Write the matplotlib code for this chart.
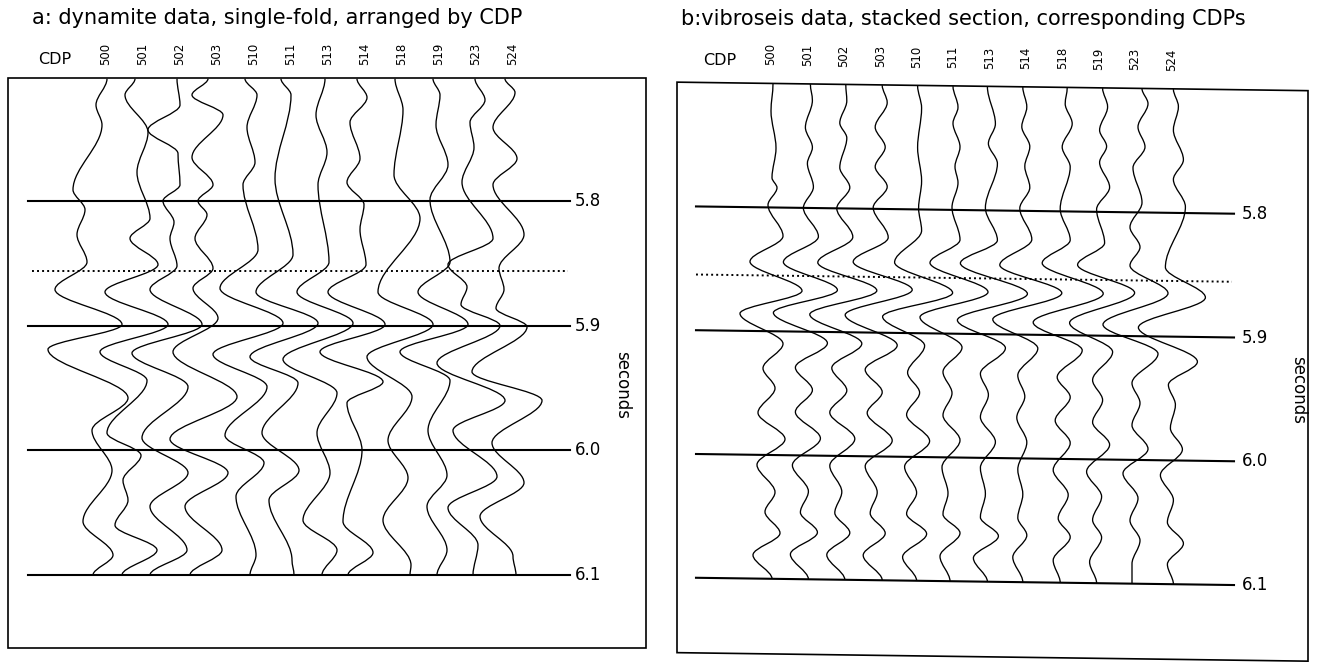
import numpy as np
import matplotlib.pyplot as plt
from matplotlib.path import Path
from matplotlib.patches import PathPatch, Rectangle
from matplotlib.transforms import Affine2D, blended_transform_factory

# CDP numbers on top of both sections
cdp_labels = ["500", "501", "502", "503", "510", "511", "513", "514", "518", "519", "523", "524"]

# timing lines (seconds) and the dotted pick
time_lines = [5.8, 5.9, 6.0, 6.1]
time_labels = ["5.8", "5.9", "6.0", "6.1"]
pick_a = 5.856
pick_b = 5.855

# a: dynamite traces, turning points: (time s, amplitude)
dyn_500 = [(5.702, 1), (5.723, -10), (5.739, -4), (5.791, -33), (5.807, -21), (5.827, -29), (5.849, -19),
           (5.871, -51), (5.899, 16), (5.919, -58), (5.958, 22), (5.984, -14), (6.016, 6), (6.057, -23),
           (6.084, 7), (6.100, -13)]
dyn_501 = [(5.702, -8), (5.715, -18), (5.745, 5), (5.777, -6), (5.814, 7), (5.830, -13), (5.851, 15),
           (5.873, -38), (5.899, 25), (5.921, -43), (5.944, 4), (5.986, -36), (6.004, -2), (6.024, -20),
           (6.040, -15), (6.060, -28), (6.080, 14), (6.100, -21)]
dyn_502 = [(5.702, -3), (5.723, 0), (5.743, -32), (5.762, -2), (5.787, 0), (5.800, -17), (5.817, -6),
           (5.830, -10), (5.852, -3), (5.871, -30), (5.899, 22), (5.922, -48), (5.949, 8), (5.990, -38),
           (6.018, 8), (6.045, -30), (6.080, 7), (6.100, -30)]
dyn_503 = [(5.702, -9), (5.715, -25), (5.731, 6), (5.765, -25), (5.787, -4), (5.800, -19), (5.811, -10),
           (5.830, -22), (5.854, -4), (5.870, -24), (5.894, 1), (5.921, -44), (5.957, 20), (5.991, -47),
           (6.018, 11), (6.045, -32), (6.080, 5), (6.100, -27)]
dyn_510 = [(5.702, -9), (5.715, 3), (5.741, -7), (5.769, 1), (5.787, -11), (5.839, 4), (5.870, -34),
           (5.898, 29), (5.923, -41), (5.949, 13), (5.988, -29), (6.010, 10), (6.037, -18), (6.084, 2),
           (6.100, -4)]
dyn_511 = [(5.702, -10), (5.715, 0), (5.782, -16), (5.843, 2), (5.873, -35), (5.898, 27), (5.925, -41),
           (5.946, 7), (5.986, -29), (6.016, 8), (6.040, -22), (6.088, 1), (6.100, 3)]
dyn_513 = [(5.702, -3), (5.731, -12), (5.761, -1), (5.787, -10), (5.849, 1), (5.873, -31), (5.898, 25),
           (5.927, -45), (5.954, 9), (5.986, -11), (6.018, 2), (6.056, -25), (6.080, 9), (6.100, -6)]
dyn_514 = [(5.702, -8), (5.717, 2), (5.737, -15), (5.766, -5), (5.785, -18), (5.803, -1), (5.823, -5),
           (5.851, 1), (5.873, -37), (5.899, 20), (5.921, -45), (5.945, 18), (5.962, -18), (6.000, -3),
           (6.057, -22), (6.082, 8), (6.100, -17)]
dyn_518 = [(5.702, -7), (5.727, 1), (5.779, -8), (5.814, 18), (5.873, -24), (5.899, 31), (5.925, -35),
           (5.957, 10), (5.992, -14), (6.022, 6), (6.056, -19), (6.092, 9), (6.100, 8)]
dyn_519 = [(5.702, -6), (5.715, 1), (5.739, -3), (5.771, 9), (5.799, -9), (5.849, 11), (5.873, -21),
           (5.899, 29), (5.921, -39), (5.944, 11), (5.984, -11), (6.020, 8), (6.045, -12), (6.080, 8),
           (6.100, -2)]
dyn_523 = [(5.702, -1), (5.719, 9), (5.737, -6), (5.757, -2), (5.785, -14), (5.830, 17), (5.851, -28),
           (5.869, -9), (5.883, -15), (5.900, 24), (5.930, -39), (5.960, 29), (5.984, -23), (6.021, 21),
           (6.046, -28), (6.076, 2), (6.100, -3)]
dyn_524 = [(5.702, -8), (5.713, 2), (5.741, -20), (5.766, 4), (5.787, -20), (5.827, 11), (5.854, -14),
           (5.871, -9), (5.886, -17), (5.901, 14), (5.937, -41), (5.960, 29), (5.994, -21), (6.026, 11),
           (6.053, -33), (6.085, 0), (6.100, 3)]

# b: vibroseis stacked traces
vib_500 = [(5.700, 2), (5.722, 0), (5.752, 5), (5.776, 1), (5.784, 6), (5.798, -3), (5.823, 12), (5.844, -21),
           (5.867, 31), (5.886, -31), (5.910, 12), (5.930, -8), (5.946, 4), (5.966, -13), (5.987, 14),
           (6.008, -14), (6.030, 4), (6.046, -6), (6.063, 9), (6.081, -18), (6.100, 1)]
vib_501 = [(5.700, 3), (5.713, 5), (5.735, -2), (5.751, 5), (5.764, 0), (5.783, 6), (5.800, -4), (5.823, 11),
           (5.844, -24), (5.866, 30), (5.885, -34), (5.909, 20), (5.929, -12), (5.947, 5), (5.965, -12),
           (5.986, 13), (6.008, -15), (6.029, 1), (6.046, -7), (6.062, 10), (6.080, -17), (6.100, 1)]
vib_502 = [(5.700, 2), (5.713, 3), (5.731, -4), (5.743, 3), (5.767, -4), (5.783, 6), (5.800, -7), (5.823, 9),
           (5.844, -26), (5.866, 33), (5.886, -34), (5.909, 18), (5.929, -12), (5.947, 3), (5.965, -14),
           (5.986, 11), (6.008, -14), (6.029, -2), (6.046, -9), (6.062, 6), (6.080, -17), (6.100, 1)]
vib_503 = [(5.700, 2), (5.714, 7), (5.734, -5), (5.750, 5), (5.766, -5), (5.782, 7), (5.799, -7), (5.823, 8),
           (5.843, -27), (5.865, 32), (5.886, -35), (5.910, 17), (5.930, -15), (5.948, 2), (5.965, -13),
           (5.987, 12), (6.008, -15), (6.029, -3), (6.046, -10), (6.062, 5), (6.080, -17), (6.100, 2)]
vib_510 = [(5.700, 1), (5.718, 5), (5.750, 1), (5.777, 5), (5.799, 2), (5.817, 5), (5.843, -22), (5.867, 36),
           (5.887, -34), (5.910, 8), (5.932, -9), (5.948, 3), (5.966, -10), (5.987, 13), (6.008, -12),
           (6.029, 0), (6.046, -10), (6.062, 10), (6.081, -14), (6.100, 0)]
vib_511 = [(5.700, 0), (5.717, 5), (5.730, 0), (5.749, 7), (5.765, 2), (5.778, 5), (5.798, -1), (5.824, 7),
           (5.843, -23), (5.866, 35), (5.887, -33), (5.911, 9), (5.931, -10), (5.948, -1), (5.966, -10),
           (5.986, 7), (6.008, -11), (6.029, -5), (6.046, -10), (6.061, 7), (6.080, -13), (6.100, -3)]
vib_513 = [(5.700, -2), (5.730, 6), (5.746, -1), (5.762, 8), (5.798, -4), (5.824, 8), (5.843, -29),
           (5.867, 38), (5.889, -32), (5.911, 16), (5.932, -9), (5.949, -1), (5.967, -9), (5.987, 6),
           (6.008, -9), (6.029, -4), (6.048, -9), (6.063, 9), (6.081, -16), (6.100, -2)]
vib_514 = [(5.700, -3), (5.716, 1), (5.732, -4), (5.748, 4), (5.764, -1), (5.781, 4), (5.798, -6), (5.823, 6),
           (5.844, -26), (5.866, 36), (5.888, -33), (5.911, 12), (5.933, -8), (5.950, -1), (5.967, -9),
           (5.987, 1), (6.009, -8), (6.029, -3), (6.048, -8), (6.062, 1), (6.080, -13), (6.100, -3)]
vib_518 = [(5.700, 5), (5.713, 3), (5.729, 10), (5.748, 0), (5.764, 8), (5.798, -2), (5.823, 8), (5.842, -20),
           (5.866, 41), (5.890, -29), (5.912, 20), (5.934, -5), (5.950, 8), (5.969, -7), (5.987, 8),
           (6.009, -9), (6.029, 6), (6.048, -4), (6.063, 8), (6.082, -9), (6.100, -2)]
vib_519 = [(5.700, 4), (5.715, 9), (5.734, 1), (5.747, 8), (5.760, 1), (5.780, 11), (5.798, -2), (5.825, 6),
           (5.843, -21), (5.865, 36), (5.890, -29), (5.913, 14), (5.936, -6), (5.952, 4), (5.970, -6),
           (5.988, 11), (6.010, -12), (6.030, 3), (6.049, -6), (6.063, 3), (6.083, -9), (6.100, -2)]
vib_523 = [(5.700, 7), (5.712, 13), (5.731, 3), (5.747, 10), (5.764, -2), (5.792, 7), (5.812, -5), (5.828, 5),
           (5.843, -5), (5.865, 33), (5.891, -32), (5.914, 23), (5.938, -3), (5.954, 5), (5.972, -3),
           (5.991, 13), (6.011, -12), (6.031, 3), (6.049, -5), (6.065, 5), (6.084, -3), (6.100, -3)]
vib_524 = [(5.700, 2), (5.714, 7), (5.733, 2), (5.757, 12), (5.773, 2), (5.795, 14), (5.844, -6), (5.868, 34),
           (5.893, -33), (5.920, 26), (5.939, -3), (5.955, 4), (5.974, -1), (5.991, 11), (6.012, -11),
           (6.032, 2), (6.050, -4), (6.067, 12), (6.084, -4), (6.100, 2)]

dynamite = [dyn_500, dyn_501, dyn_502, dyn_503, dyn_510, dyn_511, dyn_513, dyn_514, dyn_518, dyn_519, dyn_523, dyn_524]
vibroseis = [vib_500, vib_501, vib_502, vib_503, vib_510, vib_511, vib_513, vib_514, vib_518, vib_519, vib_523, vib_524]

fig = plt.figure(figsize=(13.26, 6.63), dpi=100)


def draw_trace(ax, pts, x0, tr):
    # smooth wiggle through the turning points (vertical tangent at each)
    verts = [(x0 + pts[0][1], pts[0][0])]
    codes = [Path.MOVETO]
    for (t0, a0), (t1, a1) in zip(pts[:-1], pts[1:]):
        dt = t1 - t0
        verts += [(x0 + a0, t0 + dt / 3), (x0 + a1, t1 - dt / 3), (x0 + a1, t1)]
        codes += [Path.CURVE4] * 3
    ax.add_patch(PathPatch(Path(verts, codes), fill=False, ec="black", lw=0.95,
                           transform=tr, clip_on=False))


def panel(rect, xlim, ylim, spacing, traces, pick, line_x, dot_x, label_x, shear,
          cdp_xy, tick_y, sec_xy):
    ax = fig.add_axes(rect)
    ax.set_xlim(*xlim)
    ax.set_ylim(*ylim)
    ax.axis("off")
    td = ax.transData + shear
    ta = ax.transAxes + shear
    tb = blended_transform_factory(ax.transData, ax.transAxes) + shear

    ax.add_patch(Rectangle((0, 0), 1, 1, fill=False, ec="black", lw=1.2, transform=ta, clip_on=False))
    for t, lab in zip(time_lines, time_labels):
        ax.plot(line_x, [t, t], color="black", lw=1.5, transform=td, clip_on=False)
        ax.text(label_x, t, lab, transform=td, ha="left", va="center", fontsize=12)
    ax.plot(dot_x, [pick, pick], color="black", lw=1.4, ls=(0, (1.0, 1.6)), transform=td, clip_on=False)

    for i, (pts, lab) in enumerate(zip(traces, cdp_labels)):
        draw_trace(ax, pts, i * spacing, td)
        ax.text(i * spacing, tick_y, lab, transform=tb, rotation=90, ha="center", va="center", fontsize=8.5)

    ax.text(cdp_xy[0], cdp_xy[1], "CDP", transform=ta, ha="center", va="center", fontsize=11.5)
    ax.text(sec_xy[0], sec_xy[1], "seconds", transform=ta, rotation=-90, ha="center", va="center", fontsize=12)
    return ax


# a: dynamite data (no skew)
panel([8 / 1326, 15 / 663, 638 / 1326, 570 / 663], (-98, 540), (6.1585, 5.7014), 37, dynamite, pick_a,
      [-78, 464], [-74, 462], 469, Affine2D(), (0.0737, 1.0316), 1.0421, (0.9624, 0.4614))

# b: vibroseis data, scanned page is slightly skewed
k = 0.0135
skew = Affine2D(np.array([[1, 0, 0], [-k, 1, k * 740], [0, 0, 1]]))
panel([677 / 1326, 9.5 / 663, 631 / 1326, 570.5 / 663], (-94, 537), (6.1607, 5.6998), 36.4, vibroseis, pick_b,
      [-75, 463], [-75, 461], 471, skew, (0.0681, 1.0382), 1.0508, (0.9842, 0.4750))

fig.text(32 / 1326, 1 - 18 / 663, "a: dynamite data, single-fold, arranged by CDP",
         ha="left", va="center", fontsize=15)
fig.text(681 / 1326, 1 - 19 / 663, "b:vibroseis data, stacked section, corresponding CDPs",
         ha="left", va="center", fontsize=15)

plt.savefig("out.png", dpi=100)
